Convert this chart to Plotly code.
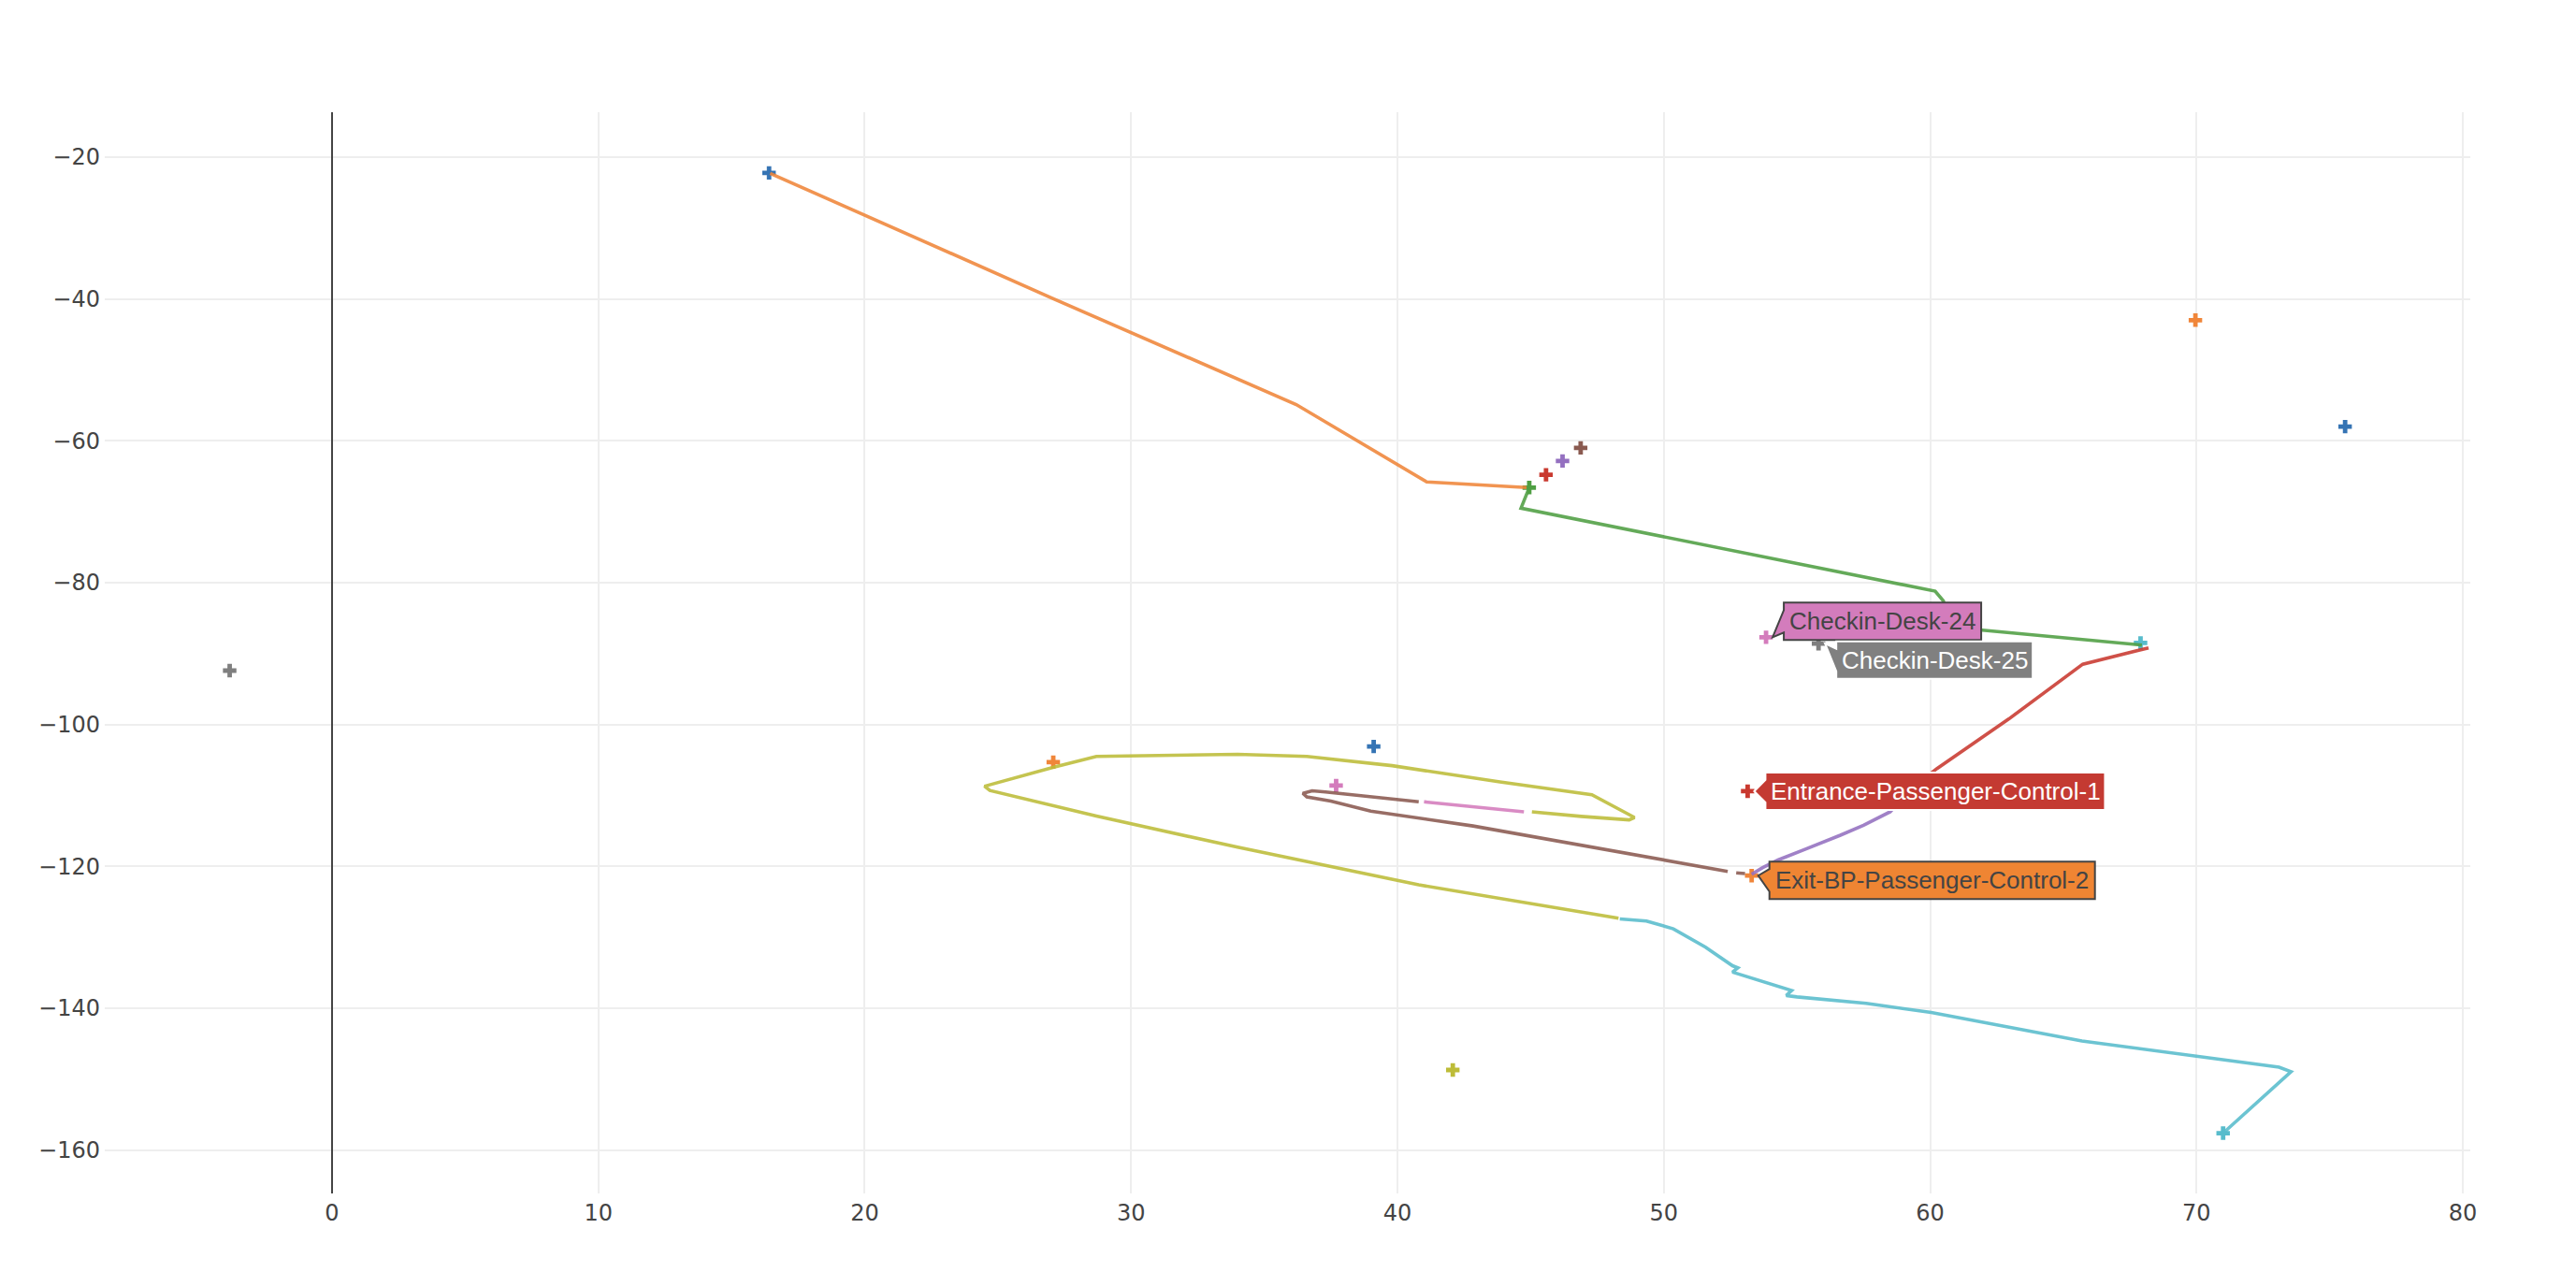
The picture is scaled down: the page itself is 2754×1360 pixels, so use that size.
import plotly.graph_objects as go

# ---------------- data ----------------
# location markers, one group per trace colour
blue_x = [16.41, 39.11, 75.58]
blue_y = [-22.24, -103.1, -58.0]
orange_x = [69.96, 27.08, 53.30]
orange_y = [-43.0, -105.3, -121.3]
green_x = [44.95]
green_y = [-66.6]
red_x = [45.58, 53.15]
red_y = [-64.8, -109.4]
purple_x = [46.20]
purple_y = [-62.85]
brown_x = [46.88]
brown_y = [-61.0]
pink_x = [53.84, 37.70]
pink_y = [-87.7, -108.6]
gray_x = [-3.84, 55.81]
gray_y = [-92.4, -88.6]
olive_x = [42.08]
olive_y = [-148.7]
cyan_x = [67.90, 71.00]
cyan_y = [-88.5, -157.6]

# path segments (None = break in the line)
path_orange_x = [16.45, 27.04, 36.2, 41.1, 44.85]
path_orange_y = [-22.3, -39.9, -54.9, -65.8, -66.6]
path_green_x = [44.95, 44.64, 60.19, 60.50, 60.70, 61.96, 67.95]
path_green_y = [-66.6, -69.5, -81.2, -82.6, -86.2, -86.7, -88.8]
path_red_x = [68.20, 65.73, 62.96, 60.26, 59.30]
path_red_y = [-89.2, -91.5, -99.2, -106.2, -109.0]
path_purple_x = [59.30, 58.50, 57.50, 56.63, 55.30, 54.29, 53.70, 53.30]
path_purple_y = [-109.0, -112.3, -114.2, -115.6, -117.6, -119.1, -120.2, -121.1]
path_brown_x = [53.05, 52.72, None, 52.40, 45.50, 42.84, 39.00, 37.50, 36.60, 36.45, 36.80, 37.30, 40.80]
path_brown_y = [-121.0, -120.9, None, -120.7, -116.0, -114.3, -112.2, -110.8, -110.2, -109.7, -109.35, -109.5, -110.9]
path_pink_x = [41.00, 44.75]
path_pink_y = [-110.9, -112.3]
path_olive_x = [45.05, 46.90, 48.70, 48.90, 47.30, 43.85, 39.80, 36.60, 34.00, 28.70, 27.10,
                24.50, 24.70, 28.70, 34.00, 40.80, 48.30]
path_olive_y = [-112.3, -112.95, -113.45, -113.1, -109.9, -108.1, -105.8, -104.5, -104.2, -104.5, -106.0,
                -108.7, -109.3, -112.9, -117.3, -122.6, -127.3]
path_cyan_x = [48.35, 49.35, 50.36, 51.57, 52.58, 52.78, 52.58, 54.80, 54.60, 55.00, 57.60, 60.04,
               65.70, 70.00, 73.10, 73.55, 71.70, 71.00]
path_cyan_y = [-127.4, -127.7, -128.8, -131.4, -134.0, -134.3, -134.9, -137.5, -138.2, -138.4, -139.3, -140.6,
               -144.6, -146.75, -148.3, -148.95, -155.3, -157.6]

# hover-style labels: text and the marker (group, index) they point to
label_texts = ["Checkin-Desk-24", "Checkin-Desk-25", "Entrance-Passenger-Control-1", "Exit-BP-Passenger-Control-2"]
label_groups = ["pink", "gray", "red", "orange"]
label_index = [0, 1, 1, 2]

x_ticks = [0, 10, 20, 30, 40, 50, 60, 70, 80]
y_ticks = [-20, -40, -60, -80, -100, -120, -140, -160]

# ---------------- styles ----------------
COL = {
    "blue": "#3574b4", "orange": "#f0863a", "green": "#4f9f43", "red": "#c9392f",
    "purple": "#9470c0", "brown": "#8a5a50", "pink": "#d47cbc", "gray": "#7f7f7f",
    "olive": "#bdbc38", "cyan": "#58bccc",
}
LABEL_BG = {"pink": "#d37cbc", "gray": "#808080", "red": "#c43a32", "orange": "#ef8533"}
LABEL_FG = {"pink": "#444444", "gray": "#ffffff", "red": "#ffffff", "orange": "#444444"}
# pixel geometry of each label: vertical offset of the box centre (screen, down +) and box width
LABEL_OFFY = [-17, 17.5, 0, 5]
LABEL_W = [211, 210, 363, 348]
LABEL_H = 40
TIP = 7
ARROW = 12

markers = {
    "blue": (blue_x, blue_y), "orange": (orange_x, orange_y), "green": (green_x, green_y),
    "red": (red_x, red_y), "purple": (purple_x, purple_y), "brown": (brown_x, brown_y),
    "pink": (pink_x, pink_y), "gray": (gray_x, gray_y), "olive": (olive_x, olive_y),
    "cyan": (cyan_x, cyan_y),
}
paths = [
    ("orange", path_orange_x, path_orange_y), ("green", path_green_x, path_green_y),
    ("red", path_red_x, path_red_y), ("purple", path_purple_x, path_purple_y),
    ("brown", path_brown_x, path_brown_y), ("pink", path_pink_x, path_pink_y),
    ("olive", path_olive_x, path_olive_y), ("cyan", path_cyan_x, path_cyan_y),
]

fig = go.Figure()
for key, (mx, my) in markers.items():
    fig.add_trace(go.Scatter(x=mx, y=my, mode="markers",
                             marker=dict(symbol="cross", size=12, color=COL[key]),
                             hoverinfo="skip", showlegend=False))
for key, px_, py_ in paths:
    fig.add_trace(go.Scatter(x=px_, y=py_, mode="lines", connectgaps=False, opacity=0.88,
                             line=dict(color=COL[key], width=3.6),
                             hoverinfo="skip", showlegend=False))


def label_path(off_y, w, h):
    b = TIP + ARROW
    pts = [(TIP, 0), (b, off_y + ARROW), (b, off_y + h / 2), (b + w, off_y + h / 2),
           (b + w, off_y - h / 2), (b, off_y - h / 2), (b, off_y - ARROW)]
    return "M" + " L".join(f"{x:.1f},{-y:.1f}" for x, y in pts) + " Z"


shapes = []
annotations = []
for i, text in enumerate(label_texts):
    g = label_groups[i]
    mx = markers[g][0][label_index[i]]
    my = markers[g][1][label_index[i]]
    shapes.append(dict(type="path", xref="x", yref="y", xsizemode="pixel", ysizemode="pixel",
                       xanchor=mx, yanchor=my, path=label_path(LABEL_OFFY[i], LABEL_W[i], LABEL_H),
                       fillcolor=LABEL_BG[g], line=dict(color=LABEL_FG[g], width=2), layer="above"))
    annotations.append(dict(x=mx, y=my, xref="x", yref="y", text=text, showarrow=False,
                            xanchor="left", yanchor="middle", xshift=TIP + ARROW + 4,
                            yshift=-LABEL_OFFY[i],
                            font=dict(family="Arial, Liberation Sans, sans-serif", size=26,
                                      color=LABEL_FG[g])))

fig.update_layout(
    template="none",
    width=2754, height=1360, autosize=False,
    margin=dict(l=112, r=113, t=120, b=84, pad=0),
    paper_bgcolor="white", plot_bgcolor="white",
    font=dict(family="DejaVu Sans, Verdana, sans-serif", size=24, color="#444444"),
    showlegend=False,
    shapes=shapes, annotations=annotations,
)
fig.update_xaxes(range=[-8.53, 80.28], tickvals=x_ticks, showgrid=True, gridcolor="#eeeeee",
                 gridwidth=2, zeroline=True, zerolinecolor="#444444", zerolinewidth=2,
                 showline=False, ticks="", ticklabelstandoff=4)
fig.update_yaxes(range=[-166.1, -13.69], tickvals=y_ticks, showgrid=True, gridcolor="#eeeeee",
                 gridwidth=2, zeroline=True, zerolinecolor="#444444", zerolinewidth=2,
                 showline=False, ticks="", ticklabelstandoff=4)

fig.write_html("out.html")
